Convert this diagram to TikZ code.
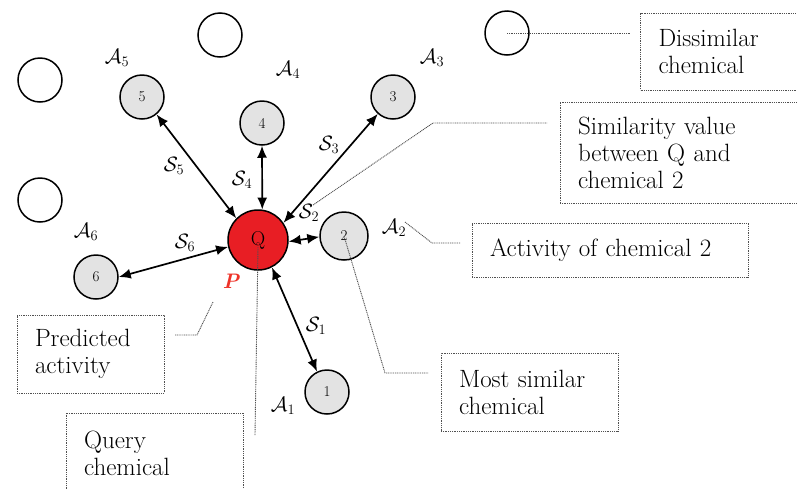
\documentclass[tikz,border=0pt]{standalone}
\usetikzlibrary{arrows.meta}
\definecolor{qred}{RGB}{232,30,36}
\definecolor{pred}{RGB}{238,50,40}
\definecolor{dotgray}{RGB}{80,80,80}
\begin{document}
\begin{tikzpicture}[x=1pt,y=-1pt,
  chem/.style={circle, draw, line width=1.5pt, fill=gray!22, minimum size=44pt, inner sep=0pt, font=\fontsize{15}{17}\selectfont},
  blank/.style={circle, draw, line width=1.5pt, minimum size=44pt, inner sep=0pt},
  query/.style={circle, draw, line width=1.5pt, fill=qred, minimum size=60pt, inner sep=0pt, font=\fontsize{20}{22}\selectfont},
  link/.style={{Latex[length=12pt,width=10pt]}-{Latex[length=12pt,width=10pt]}, line width=1.7pt},
  lead/.style={draw=dotgray, line width=0.9pt, dash pattern=on 1pt off 0.8pt},
  note/.style={lead, inner xsep=18pt, inner ysep=0pt, align=left, font=\fontsize{25}{27}\selectfont},
  lab/.style={font=\fontsize{22}{24}\selectfont, inner sep=0pt}
]
\useasboundingbox (0,0) rectangle (797,488);

% chemicals
\node[query] (q) at (258,240) {Q};
\node[chem] (n1) at (327,392) {1};
\node[chem, minimum size=48pt] (n2) at (344,236) {2};
\node[chem] (n3) at (393,97) {3};
\node[chem] (n4) at (262,123) {4};
\node[chem] (n5) at (142,97) {5};
\node[chem] (n6) at (96,277) {6};

% dissimilar chemicals
\node[blank] (e1) at (40,80) {};
\node[blank] (e2) at (220,35) {};
\node[blank] (e3) at (40,200) {};
\node[blank] (e4) at (507,33) {};

% links
\draw[link] (n5.-50) -- (q.135);
\draw[link] (n4.south) -- (q.82);
\draw[link] (n3.228) -- (q.34);
\draw[link] (q.-3) -- (n2.182);
\draw[link] (n6.east) -- (q.193);
\draw[link] (q.-63) -- (n1.116);

% activity labels
\node[lab] (a5) at (117,58) {$\mathcal{A}_5$};
\node[lab] (a4) at (288,70) {$\mathcal{A}_4$};
\node[lab] (a3) at (432,58) {$\mathcal{A}_3$};
\node[lab] (a6) at (86,232) {$\mathcal{A}_6$};
\node[lab] (a2) at (394,228) {$\mathcal{A}_2$};
\node[lab] (a1) at (283,406) {$\mathcal{A}_1$};

% similarity labels
\node[lab] (s5) at (174,166) {$\mathcal{S}_5$};
\node[lab] (s4) at (242,180) {$\mathcal{S}_4$};
\node[lab] (s3) at (329,145) {$\mathcal{S}_3$};
\node[lab] (s2) at (309,213) {$\mathcal{S}_2$};
\node[lab] (s6) at (185,243) {$\mathcal{S}_6$};
\node[lab] (s1) at (316,326) {$\mathcal{S}_1$};

\node[lab, text=pred, font=\fontsize{21}{23}\selectfont\bfseries\itshape] (p) at (231,281) {P};

% note boxes
\node[note, text width=121pt, minimum height=77pt] (bdis) at (719,51.5) {Dissimilar\\chemical};
\node[note, text width=201pt, minimum height=101pt] (bsim) at (678.5,152.5) {Similarity value\\between Q and\\chemical 2};
\node[note, text width=240pt, minimum height=54pt] (bact) at (610,250) {Activity of chemical 2};
\node[note, text width=141pt, minimum height=78pt] (bmost) at (529.5,392) {Most similar\\chemical};
\node[note, text width=111pt, minimum height=78pt] (bpred) at (90.5,354) {Predicted\\activity};
\node[note, text width=141pt, minimum height=80pt] (bquery) at (154.5,453) {Query\\chemical};

% leader lines
\coordinate (ld) at (630,33);
\draw[lead] (e4.center) -- (ld);
\coordinate (ls1) at (313,205);
\coordinate (ls2) at (433,123);
\coordinate (ls3) at (547,123);
\draw[lead] (ls1) -- (ls2) -- (ls3);
\coordinate (la1) at (405,222);
\coordinate (la2) at (432,243);
\coordinate (la3) at (460,243);
\draw[lead] (la1) -- (la2) -- (la3);
\coordinate (lm1) at (385,373);
\coordinate (lm2) at (428,373);
\draw[lead] (n2.center) -- (lm1) -- (lm2);
\coordinate (lp1) at (213,302);
\coordinate (lp2) at (197,335);
\coordinate (lp3) at (175,335);
\draw[lead] (lp1) -- (lp2) -- (lp3);
\coordinate (lq) at (255,435);
\draw[lead] (q.center) ++(0,7) -- (lq);
\end{tikzpicture}
\end{document}
